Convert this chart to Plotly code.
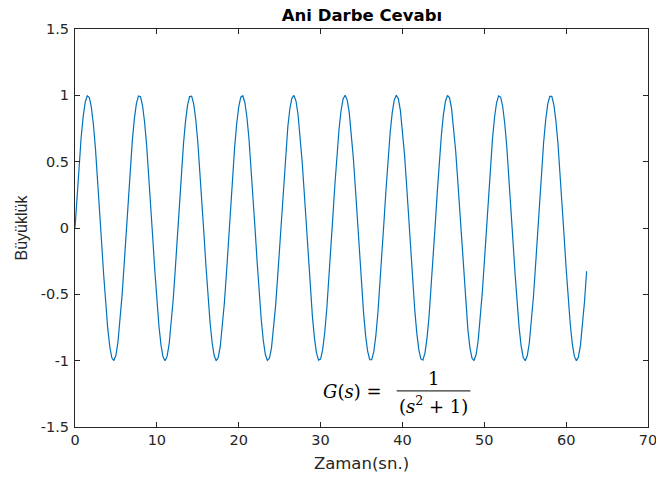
import numpy as np
import plotly.graph_objects as go

T_END = 62.5
response = [
    0.0, 0.247, 0.479, 0.682, 0.841, 0.949, 0.997, 0.984, 0.909, 0.778, 0.598, 0.382, 0.141,
    -0.108, -0.351, -0.572, -0.757, -0.895, -0.978, -0.999, -0.959, -0.859, -0.706, -0.508, -0.279, -0.033,
    0.215, 0.450, 0.657, 0.823, 0.938, 0.995, 0.989, 0.923, 0.799, 0.625, 0.412, 0.174, -0.075,
    -0.320, -0.544, -0.735, -0.880, -0.970, -1.000, -0.968, -0.876, -0.729, -0.537, -0.311, -0.066, 0.183,
    0.420, 0.632, 0.804, 0.926, 0.991, 0.994, 0.935, 0.818, 0.650, 0.442, 0.207, -0.042,
    -0.288, -0.516, -0.712, -0.863, -0.961, -1.000, -0.976, -0.891, -0.751, -0.564, -0.343, -0.099,
    0.150, 0.390, 0.606, 0.784, 0.913, 0.986, 0.997, 0.946, 0.837, 0.675, 0.472, 0.239, -0.009,
    -0.256, -0.487, -0.688, -0.846, -0.952, -0.998, -0.982, -0.906, -0.772, -0.591, -0.374, -0.132, 0.117,
    0.359, 0.579, 0.763, 0.899, 0.979, 0.999, 0.956, 0.854, 0.699, 0.501, 0.271, 0.024,
    -0.224, -0.458, -0.664, -0.828, -0.941, -0.996, -0.988, -0.919, -0.793, -0.618, -0.404, -0.165,
    0.084, 0.328, 0.551, 0.741, 0.884, 0.972, 1.000, 0.966, 0.871, 0.723, 0.529, 0.303, 0.058,
    -0.191, -0.428, -0.638, -0.809, -0.929, -0.992, -0.993, -0.932, -0.813, -0.643, -0.434, -0.198, 0.051,
    0.296, 0.524, 0.718, 0.868, 0.964, 1.000, 0.974, 0.887, 0.745, 0.557, 0.334, 0.091,
    -0.159, -0.398, -0.613, -0.789, -0.917, -0.987, -0.996, -0.943, -0.832, -0.669, -0.464, -0.230,
    0.018, 0.265, 0.495, 0.694, 0.851, 0.954, 0.999, 0.981, 0.902, 0.767, 0.584, 0.365, 0.124,
    -0.126, -0.367, -0.586, -0.768, -0.903, -0.981, -0.999, -0.954, -0.850, -0.693, -0.493, -0.262, -0.016,
    0.232, 0.466, 0.670, 0.833, 0.944, 0.996, 0.987, 0.916, 0.788, 0.611, 0.396, 0.157, -0.093,
    -0.336, -0.559, -0.747, -0.888, -0.974, -1.000, -0.963, -0.867, -0.717, -0.522, -0.294, -0.049, 0.200,
    0.436, 0.645, 0.814, 0.933, 0.993, 0.992, 0.929, 0.808, 0.637, 0.426, 0.189, -0.060,
    -0.305, -0.531, -0.724, -0.872, -0.966, -1.000, -0.972, -0.883, -0.739, -0.550, -0.326,
]
time = np.linspace(0, T_END, len(response))

x_tick_vals = [0, 10, 20, 30, 40, 50, 60, 70]
x_tick_text = ["0", "10", "20", "30", "40", "50", "60", "70"]
y_tick_vals = [1.5, 1, 0.5, 0, -0.5, -1, -1.5]
y_tick_text = ["1.5", "1", "0.5", "0", "-0.5", "-1", "-1.5"]

title_text = "<b>Ani Darbe Cevabı</b>"
x_title = "Zaman(sn.)"
y_title = "Büyüklük"

LINE_COLOR = "#0072BD"
AXIS_COLOR = "#262626"
WIDE = "DejaVu Sans, Verdana, sans-serif"
SANS = "Liberation Sans, Arial, sans-serif"

fig = go.Figure()
fig.add_trace(go.Scatter(
    x=time, y=response, mode="lines",
    line=dict(color=LINE_COLOR, width=1.2),
    showlegend=False, hoverinfo="skip",
))

axis_common = dict(
    showgrid=False, zeroline=False, showline=True, linecolor=AXIS_COLOR, linewidth=1,
    mirror="ticks", ticks="inside", ticklen=5, tickwidth=1, tickcolor=AXIS_COLOR,
    automargin=False, ticklabeloverflow="allow",
    tickfont=dict(family=WIDE, size=14.5, color=AXIS_COLOR),
)

fig.update_xaxes(range=[0, 70], tickvals=x_tick_vals, ticktext=x_tick_text,
                 title=dict(text=x_title, standoff=10,
                            font=dict(family=WIDE, size=16.5, color=AXIS_COLOR)),
                 **axis_common)
fig.update_yaxes(range=[-1.5, 1.5], tickvals=y_tick_vals, ticktext=y_tick_text,
                 ticklabelstandoff=2,
                 title=dict(text=y_title, standoff=9,
                            font=dict(family=SANS, size=16, color=AXIS_COLOR)),
                 **axis_common)

# G(s) = 1 / (s^2 + 1) built from text pieces and a fraction bar
math_font = dict(family="DejaVu Serif, Liberation Serif, serif", size=18, color="black")
fig.add_annotation(x=37.7, y=-1.23, xref="x", yref="y", xanchor="right", yanchor="middle",
                   text="<i>G</i>(<i>s</i>) =", showarrow=False, font=math_font)
fig.add_annotation(x=43.75, y=-1.135, xref="x", yref="y", xanchor="center", yanchor="middle",
                   text="1", showarrow=False, font=math_font)
fig.add_annotation(x=43.75, y=-1.335, xref="x", yref="y", xanchor="center", yanchor="middle",
                   text="(<i>s</i><sup>2</sup> + 1)", showarrow=False, font=math_font)
fig.add_shape(type="line", xref="x", yref="y", x0=39.3, x1=48.3, y0=-1.228, y1=-1.228,
              line=dict(color="black", width=1))

fig.update_layout(
    width=656, height=479,
    margin=dict(l=75, r=8, t=29, b=52, autoexpand=False),
    paper_bgcolor="white", plot_bgcolor="white",
    title=dict(text=title_text, x=0.5518, xanchor="center", y=0.9687, yanchor="middle",
               automargin=False,
               font=dict(family=WIDE, size=16.5, color="black")),
)

fig.write_html(
    "out.html",
    config={"displayModeBar": False, "staticPlot": True},
    post_script="document.documentElement.style.overflow='hidden';"
                "document.body.style.margin='0';document.body.style.overflow='hidden';",
)
